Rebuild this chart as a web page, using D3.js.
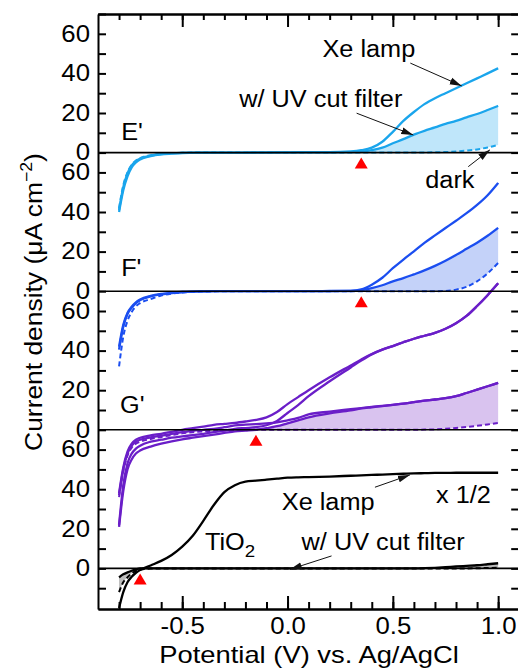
<!DOCTYPE html>
<html>
<head>
<meta charset="utf-8">
<script src="https://cdn.jsdelivr.net/npm/d3@7"></script>
<style>
  body { margin: 0; background: #fff; }
  svg text { font-family: "Liberation Sans", Arial, Helvetica, sans-serif; fill: #000; }
</style>
</head>
<body>
<svg id="chart" width="518" height="668"></svg>
<script>
// Potential grid (V vs. Ag/AgCl) shared by every sweep
const potential = [-0.8,-0.78,-0.76,-0.74,-0.72,-0.7,-0.65,-0.6,-0.55,-0.5,
  -0.45,-0.4,-0.35,-0.3,-0.25,-0.2,-0.15,-0.1,-0.05,0,
  0.05,0.1,0.2,0.3,0.35,0.4,0.45,0.5,0.55,0.6,
  0.65,0.7,0.75,0.8,0.85,0.9,0.95,1.0];

// E' (µA cm^-2)
const eXe = [-30,-19,-12,-7.5,-5,-3.5,-1.8,-0.9,-0.5,-0.2,
  -0.1,0,0,0,0,0,0.1,0.1,0.1,0.1,
  0.2,0.2,0.2,0.6,1.2,2.5,5.5,10.5,16,20.5,
  24.5,27.5,30,32.5,35,37.5,40,42.6];
const eFilter = [-29,-17.5,-10.5,-6.5,-4.3,-3,-1.5,-0.7,-0.3,-0.1,
  0,0,0,0,0,0,0,0,0.1,0.1,
  0.1,0.1,0.1,0.2,0.4,1.2,2.5,4.7,6.8,9.1,
  11,12.7,14.5,16,17.8,19.5,21.5,23.6];
const eDark = [-28,-16.5,-10,-6.2,-4,-2.8,-1.3,-0.6,-0.3,-0.1,
  0,0,0,0,0,0,0,0,0,0,
  0,0,0,0,0,0,0,0,0,0.1,
  0.1,0.2,0.3,0.6,1,1.6,2.6,3.9];

// F'
const fXe = [-29.5,-18,-11.5,-8.4,-6,-4.5,-2.6,-1.6,-0.9,-0.4,
  -0.2,-0.1,0,0,0,0,0,0,0,0,
  0,0,0.1,0.2,0.9,3.3,6.8,11.6,16,20.1,
  24.4,28.2,31.9,35.6,39.4,43.6,48.5,54.7];
const fFilter = [-28,-17,-11,-7.8,-5.6,-4.2,-2.4,-1.4,-0.8,-0.4,
  -0.2,-0.1,0,0,0,0,0,0,0,0,
  0,0,0,0.1,0.5,1.5,3,5,6.6,8.5,
  10.5,12.8,15.4,18.3,21.4,24.5,28,32];
const fDark = [-38,-23,-15,-10.5,-7.6,-6,-4,-2.2,-1.2,-0.6,
  -0.4,-0.2,-0.1,0,0,0,0,0,0,0,
  0,0,0,0,0,0,0,0,0,0,
  0,0,0.1,0.8,2.2,5,9,14.3];

// G' (two sweep directions each)
const gXeFwd = [-32,-19,-11,-7,-5,-4,-2.8,-2,-1,0,
  0.8,1.6,2.5,3,3.5,4.2,5,6.3,9,13,
  16.5,20,26.5,32.5,35.5,38.3,40.5,42.3,44.2,46,
  47.5,49,51,53.8,57.5,62.5,68,74];
const gXeRev = [-48,-28,-17,-12,-9.5,-8,-6,-5,-4,-3.3,
  -2.7,-2,-1.2,-0.4,0.5,0.9,1.3,2.3,4.5,8.5,
  12.5,17,24.5,31.5,35,38.1,40.5,42.3,44.2,46,
  47.5,49,51,53.8,57.5,62.5,68,74];
const gFilterFwd = [-33,-20,-12,-8,-6,-5,-3.8,-3,-2,-1.2,
  -0.5,0,0.5,1.3,2.2,2.6,2.9,3.3,3.8,4.8,
  6,7.8,9.2,10.4,11,11.6,12.1,12.6,13.2,14,
  14.7,15.3,16,17,18.6,20.3,22,23.7];
const gFilterRev = [-49,-31,-20,-15,-12,-10.5,-8.5,-7,-5.8,-4.8,
  -4,-3.2,-2.4,-1.6,-0.8,-0.4,0,0.8,1.8,3.3,
  4.8,6.3,8.3,9.8,10.8,11.4,12,12.6,13.2,14,
  14.7,15.3,16,17,18.6,20.3,22,23.7];
const gDark = [-34,-21,-13,-9,-7,-6,-4.6,-3.6,-2.6,-1.8,
  -1.2,-0.8,-0.5,-0.3,-0.1,0,0,0,0,0,
  0,0,0,0,0,0,0,0,0,0,
  0.1,0.2,0.5,0.9,1.4,2,2.7,3.5];

// TiO2 (Xe lamp trace shown at half scale)
const tXeHalf = [-20,-12,-7,-4.2,-2.2,-0.8,1.5,3.8,6.8,11,
  16.5,24,32,38.5,42,43.8,44.3,44.8,45.3,45.8,
  46,46.1,46.4,46.8,47,47.2,47.4,47.6,47.8,48,
  48.1,48.2,48.2,48.3,48.3,48.3,48.3,48.3];
const tFilter = [-4.5,-3,-2,-1.2,-0.5,0,0,0,0,0,
  0,0,0,0,0,0,0,0,0,0,
  0,0,0,0,0,0,0,0,0,0,
  0.1,0.3,0.6,1,1.3,1.6,2.1,2.6];
const tDark = [-12,-7,-4.5,-2.5,-1.2,-0.5,-0.1,0,0,0,
  0,0,0,0,0,0,0,0,0,0,
  0,0,0,0,0,0,0,0,0,0,
  0,0,0,0,0,0.1,0.2,0.3];

// Panel names (bottom to top), onset potentials, shaded ranges
const panelNames = ["TiO2", "G'", "F'", "E'"];
const onsetPotential = [-0.7, -0.15, 0.35, 0.35];
const shadedRanges = [[[-0.8, -0.7], [0.7, 1.0]], [[-0.15, 1.0]], [[0.3, 1.0]], [[0.3, 1.0]]];
const panelTickLabels = [0, 20, 40, 60];
const xTickLabels = [-0.5, 0.0, 0.5, 1.0];
const panelStep = 70;

const panels = [
  { slot: 0, color: "#000000", shade: "#bdbdbd", lines: [tXeHalf, tFilter], dark: tDark, top: tFilter },
  { slot: 1, color: "#6a1ec8", shade: "#d9c3ef", lines: [gXeFwd, gXeRev, gFilterFwd, gFilterRev], dark: gDark, top: gFilterRev },
  { slot: 2, color: "#1b4ef0", shade: "#c4d2f9", lines: [fXe, fFilter], dark: fDark, top: fFilter },
  { slot: 3, color: "#1aa5ec", shade: "#bfe6fa", lines: [eXe, eFilter], dark: eDark, top: eFilter }
];

const svg = d3.select("#chart");
const x = d3.scaleLinear().domain([-0.9, 1.1]).range([98, 519.2]);
const y = d3.scaleLinear().domain([-20.5, 280]).range([609, 14]);
const gy = (slot, v) => y(slot * panelStep + v);

// Stretch glyphs horizontally to mimic the wide sans face
function widen(sel, k) {
  sel.each(function () {
    const len = this.getComputedTextLength();
    this.setAttribute("textLength", len * k);
    this.setAttribute("lengthAdjust", "spacingAndGlyphs");
  });
}

svg.append("defs").append("clipPath").attr("id", "plot")
  .append("rect").attr("x", x.range()[0]).attr("y", y.range()[1])
  .attr("width", x.range()[1] - x.range()[0]).attr("height", y.range()[0] - y.range()[1]);

const defs = svg.select("defs");
defs.append("marker").attr("id", "head").attr("viewBox", "0 0 12 8")
  .attr("refX", 12).attr("refY", 4).attr("markerWidth", 12).attr("markerHeight", 8)
  .attr("markerUnits", "userSpaceOnUse").attr("orient", "auto")
  .append("path").attr("d", "M0,0.5 L12,4 L0,7.5 Z").attr("fill", "#111");

const plot = svg.append("g").attr("clip-path", "url(#plot)");

panels.forEach((p, pi) => {
  const s = p.slot;
  // shaded region between filtered sweep and dark trace
  shadedRanges[pi].forEach(([a, b]) => {
    const rows = potential.map((v, i) => [v, p.dark[i], p.top[i]]).filter(d => d[0] >= a - 1e-9 && d[0] <= b + 1e-9);
    plot.append("path").datum(rows)
      .attr("fill", p.shade).attr("stroke", "none")
      .attr("d", d3.area().x(d => x(d[0])).y0(d => gy(s, d[1])).y1(d => gy(s, d[2])).curve(d3.curveMonotoneX));
  });
  const line = d3.line().x(d => x(d[0])).y(d => gy(s, d[1])).curve(d3.curveMonotoneX);
  plot.append("path").datum(potential.map((v, i) => [v, p.dark[i]]))
    .attr("fill", "none").attr("stroke", p.color).attr("stroke-width", 2)
    .attr("stroke-dasharray", "5,3").attr("d", line);
  p.lines.forEach(arr => {
    plot.append("path").datum(potential.map((v, i) => [v, arr[i]]))
      .attr("fill", "none").attr("stroke", p.color).attr("stroke-width", 2.3)
      .attr("stroke-linejoin", "round").attr("d", line);
  });
});

// zero line of each panel
panels.forEach(p => {
  svg.append("line").attr("x1", x.range()[0]).attr("x2", x.range()[1])
    .attr("y1", gy(p.slot, 0)).attr("y2", gy(p.slot, 0))
    .attr("stroke", "#000").attr("stroke-width", 1.6);
});

// onset markers
panels.forEach((p, pi) => {
  const cx = x(onsetPotential[pi]), top = gy(p.slot, 0) + 5;
  svg.append("path").attr("d", `M${cx},${top} L${cx + 6.5},${top + 11} L${cx - 6.5},${top + 11} Z`).attr("fill", "#ff0000");
});

// axes
const yTicks = [];
panels.forEach(p => {
  for (let v = (p.slot === 0 ? -10 : 0); v <= 60; v += 10) yTicks.push(p.slot * panelStep + v);
});
yTicks.push(280);
const labelOf = d => {
  const v = ((d % panelStep) + panelStep) % panelStep;
  const raw = d < 0 ? d : v;
  return panelTickLabels.includes(raw) && d < 280 ? String(raw) : "";
};
const yLeft = svg.append("g").attr("transform", `translate(${x.range()[0]},0)`)
  .call(d3.axisLeft(y).tickValues(yTicks).tickSizeInner(-8).tickSizeOuter(0).tickPadding(8).tickFormat(labelOf));
const yRight = svg.append("g").attr("transform", `translate(${x.range()[1]},0)`)
  .call(d3.axisRight(y).tickValues(yTicks).tickSizeInner(-8).tickSizeOuter(0).tickFormat(""));

const minorX = d3.range(-8, 11).map(i => i / 10);
const xBottomMinor = svg.append("g").attr("transform", `translate(0,${y.range()[0]})`)
  .call(d3.axisBottom(x).tickValues(minorX).tickSizeInner(-7).tickSizeOuter(0).tickFormat(""));
const xBottom = svg.append("g").attr("transform", `translate(0,${y.range()[0]})`)
  .call(d3.axisBottom(x).tickValues(xTickLabels).tickSizeInner(-13).tickSizeOuter(0).tickPadding(9).tickFormat(d => d.toFixed(1)));
const xTopMinor = svg.append("g").attr("transform", `translate(0,${y.range()[1]})`)
  .call(d3.axisTop(x).tickValues(minorX).tickSizeInner(-6).tickSizeOuter(0).tickFormat(""));
const xTop = svg.append("g").attr("transform", `translate(0,${y.range()[1]})`)
  .call(d3.axisTop(x).tickValues(xTickLabels).tickSizeInner(-13).tickSizeOuter(0).tickFormat(""));

svg.selectAll(".domain").attr("stroke", "#000").attr("stroke-width", 2);
svg.selectAll(".tick line").attr("stroke", "#000").attr("stroke-width", 2);
yLeft.selectAll(".tick text").attr("font-size", 23).attr("fill", "#000").call(widen, 1.12);
xBottom.selectAll(".tick text").attr("font-size", 23).attr("fill", "#000").call(widen, 1.12);

// axis titles
const xt = svg.append("text").attr("x", 309).attr("y", 663).attr("text-anchor", "middle")
  .attr("font-size", 24).text("Potential (V) vs. Ag/AgCl");
widen(xt, 1.14);
const ytg = svg.append("g").attr("transform", "translate(42,302) rotate(-90) scale(1.1,1)");
const yt = ytg.append("text").attr("text-anchor", "middle").attr("font-size", 24);
yt.append("tspan").text("Current density (\u03BCA cm");
yt.append("tspan").attr("font-size", 16).attr("dy", -10).text("\u22122");
yt.append("tspan").attr("dy", 10).text(")");

// panel labels
const panelLabelPos = [null, [-0.795, 8.4], [-0.79, 7.9], [-0.79, 6.4]];
[1, 2, 3].forEach(i => {
  const t = svg.append("text").attr("x", x(panelLabelPos[i][0])).attr("y", gy(i, panelLabelPos[i][1]))
    .attr("font-size", 23).text(panelNames[i]);
  widen(t, 1.1);
});
const tio = svg.append("g").attr("transform", `translate(${x(-0.392)},${gy(0, 9.3)}) scale(1.1,1)`);
const tt = tio.append("text").attr("font-size", 23);
tt.append("tspan").text("TiO");
tt.append("tspan").attr("font-size", 17).attr("dy", 7).text("2");

// annotations: [slot, text, V, value, arrow from, arrow to]
const notes = [
  [3, "Xe lamp", 0.386, 48.3, [0.583, 45.2], [0.827, 33.7]],
  [3, "w/ UV cut filter", 0.158, 23.2, [0.328, 19.9], [0.597, 8.9]],
  [3, "dark", 0.771, -18, [0.858, -7.1], [0.961, 1.4]],
  [0, "Xe lamp", 0.193, 29.5, [0.415, 41], [0.581, 47.2]],
  [0, "x 1/2", 0.835, 32.9, null, null],
  [0, "w/ UV cut filter", 0.454, 9.3, [0.209, 6.3], [0.011, -0.5]]
];
notes.forEach(([s, label, v, val, from, to]) => {
  const t = svg.append("text").attr("x", x(v)).attr("y", gy(s, val)).attr("text-anchor", "middle")
    .attr("font-size", 23).text(label);
  widen(t, 1.1);
  if (from) {
    svg.append("line").attr("x1", x(from[0])).attr("y1", gy(s, from[1]))
      .attr("x2", x(to[0])).attr("y2", gy(s, to[1]))
      .attr("stroke", "#111").attr("stroke-width", 1).attr("marker-end", "url(#head)");
  }
});
</script>
</body>
</html>
